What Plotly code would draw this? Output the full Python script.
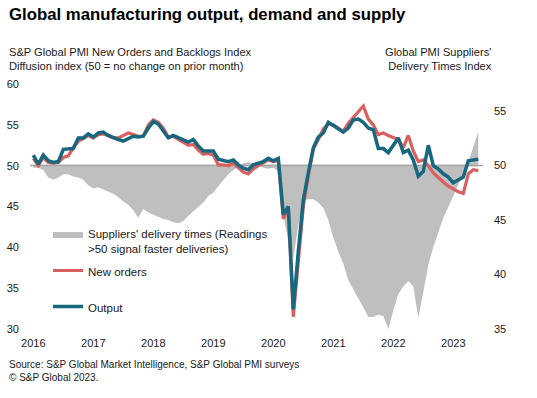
import plotly.graph_objects as go

W, H = 537, 398
L, R, T, B = 30, 54, 84, 69

months = [f"{y}-{m:02d}" for y in range(2016, 2024) for m in range(1, 13)][:90]
year_ticks = ["2016-01", "2017-01", "2018-01", "2019-01", "2020-01", "2021-01", "2022-01", "2023-01"]
year_labels = ["2016", "2017", "2018", "2019", "2020", "2021", "2022", "2023"]

output = [
    51.3, 50.2, 51.3, 50.6, 50.4, 50.5, 52.0, 52.0, 52.1, 53.4,
    53.4, 53.9, 53.5, 54.0, 54.1, 53.7, 53.4, 53.2, 53.0, 53.3,
    53.6, 53.5, 53.6, 54.6, 55.4, 55.1, 54.3, 53.4, 53.7, 53.4,
    53.1, 52.9, 53.2, 52.4, 51.8, 51.8, 51.8, 50.8, 50.7, 50.5,
    50.7, 50.1, 49.7, 49.5, 50.1, 50.3, 50.5, 50.9, 50.6, 50.9,
    44.0, 45.0, 32.4, 39.5, 45.8, 49.1, 52.2, 53.5, 54.0, 55.3,
    54.9, 54.5, 54.1, 54.6, 55.6, 55.7, 55.3, 54.6, 54.4, 52.1,
    52.1, 51.6, 52.6, 53.4, 51.6, 51.9, 50.7, 48.7, 49.3, 52.5,
    50.0, 49.6, 49.0, 48.6, 47.9, 48.3, 48.6, 50.6, 50.7, 50.8,
]

new_orders = [
    50.9, 50.0, 51.0, 50.4, 50.3, 50.4, 51.0, 51.2, 52.2, 53.0,
    53.3, 53.7, 53.4, 53.8, 53.9, 53.6, 53.4, 53.4, 53.7, 54.0,
    53.8, 53.6, 53.6, 55.0, 55.6, 55.3, 54.6, 53.5, 53.6, 53.2,
    52.8, 52.5, 52.6, 51.9, 51.4, 51.5, 51.3, 50.1, 50.1, 50.0,
    50.3, 49.8, 49.2, 49.0, 49.6, 50.0, 50.3, 50.7, 50.5, 50.6,
    43.5, 44.8, 31.5, 38.5, 45.0, 48.7, 52.0, 53.2, 54.5, 55.1,
    55.0, 54.6, 54.2, 55.2, 55.9, 56.7, 57.3, 55.7, 55.0, 53.8,
    54.0, 53.7, 53.4, 53.2, 52.2, 53.7, 51.8, 50.5, 50.7, 50.0,
    49.1, 48.5, 48.0, 47.5, 47.1, 46.8, 46.6, 49.0, 49.5, 49.4,
]

delivery_times = [
    49.8, 49.8, 49.6, 48.9, 48.7, 48.9, 49.2, 49.2, 49.0, 48.9,
    48.7, 48.2, 47.9, 48.0, 47.8, 47.6, 47.4, 47.1, 46.7, 46.4,
    45.9, 45.2, 46.0, 45.7, 45.5, 45.3, 45.1, 45.0, 44.8, 44.7,
    44.9, 45.4, 45.8, 46.2, 46.6, 47.2, 47.5, 48.1, 48.7, 49.2,
    49.6, 49.9, 50.2, 50.3, 50.2, 50.0, 49.8, 49.7, 49.8, 49.5,
    45.5, 43.0, 41.5, 44.5, 46.8, 46.9, 46.9, 46.6, 46.1, 45.0,
    43.4, 42.1, 41.0, 39.5, 38.6, 37.8, 37.0, 36.1, 36.1, 36.3,
    36.2, 35.0, 36.7, 38.2, 38.9, 39.4, 38.9, 36.0, 38.4, 40.9,
    42.5, 43.9, 45.2, 46.2, 47.2, 48.3, 49.2, 50.3, 51.7, 53.1,
]

no_change = [50] * len(months)

TEAL = "#17677e"
RED = "#d9605e"
GRAY = "#bfbfbf"
LINE50 = "#a6a6a6"
FONT = "Liberation Sans, Arial, sans-serif"
TXT = "#1a1a1a"


def px(xp):
    return (xp - L) / (W - L - R)


def py(yp):
    return (H - B - yp) / (H - T - B)


fig = go.Figure()
fig.add_trace(go.Scatter(x=months, y=no_change, yaxis="y", mode="lines",
                         line=dict(color=LINE50, width=1.5), showlegend=False,
                         hoverinfo="skip"))
fig.add_trace(go.Scatter(x=months, y=delivery_times, yaxis="y", mode="lines",
                         line=dict(width=0, color=GRAY), fill="tonexty", fillcolor=GRAY,
                         name="Suppliers' delivery times (Readings<br>&gt;50 signal faster deliveries)",
                         legend="legend"))
fig.add_trace(go.Scatter(x=months, y=new_orders, yaxis="y2", mode="lines",
                         line=dict(color=RED, width=3.2), name="New orders", legend="legend2"))
fig.add_trace(go.Scatter(x=months, y=output, yaxis="y2", mode="lines",
                         line=dict(color=TEAL, width=3.5), name="Output", legend="legend3"))

legend_common = dict(xanchor="left", yanchor="middle", valign="top", bgcolor="rgba(0,0,0,0)",
                     font=dict(size=11.5, color=TXT, family=FONT), borderwidth=0)

fig.update_layout(
    width=W, height=H,
    margin=dict(l=L, r=R, t=T, b=B, autoexpand=False),
    paper_bgcolor="white", plot_bgcolor="white",
    font=dict(family=FONT, size=11, color=TXT),
    xaxis=dict(type="category", range=[-0.66, 89.94], tickmode="array",
               tickvals=year_ticks, ticktext=year_labels, showgrid=False,
               zeroline=False, showline=False, ticks="", ticklabelstandoff=6),
    yaxis=dict(side="right", range=[35, 57.48], tickvals=[35, 40, 45, 50, 55],
               showgrid=False, zeroline=False, showline=False, ticks="",
               ticklabelstandoff=10),
    yaxis2=dict(side="left", overlaying="y", range=[30, 60],
                tickvals=[30, 35, 40, 45, 50, 55, 60], showgrid=False,
                zeroline=False, showline=False, ticks="", ticklabelstandoff=10),
    legend=dict(x=px(48), y=py(241.5), **legend_common),
    legend2=dict(x=px(48), y=py(271), **legend_common),
    legend3=dict(x=px(48), y=py(307), **legend_common),
    showlegend=True,
)

fig.add_shape(type="line", xref="x domain", x0=0, x1=1, yref="y", y0=50, y1=50,
              line=dict(color=LINE50, width=1.5), layer="below")

fig.add_annotation(text="<b>Global manufacturing output, demand and supply</b>",
                   xref="paper", yref="paper", x=px(7), y=py(15), xanchor="left",
                   yanchor="middle", showarrow=False,
                   font=dict(size=16.75, color="#000000", family=FONT))
fig.add_annotation(text="S&amp;P Global PMI New Orders and Backlogs Index<br>Diffusion index (50 = no change on prior month)",
                   xref="paper", yref="paper", x=px(7), y=py(59), xanchor="left",
                   yanchor="middle", align="left", showarrow=False,
                   font=dict(size=11.1, color=TXT, family=FONT))
fig.add_annotation(text="Global PMI Suppliers'<br>Delivery Times Index",
                   xref="paper", yref="paper", x=px(494), y=py(59), xanchor="right",
                   yanchor="middle", align="right", showarrow=False,
                   font=dict(size=11.1, color=TXT, family=FONT))
fig.add_annotation(text="Source: S&amp;P Global Market Intelligence, S&amp;P Global PMI surveys<br>© S&amp;P Global 2023.",
                   xref="paper", yref="paper", x=px(7), y=py(371), xanchor="left",
                   yanchor="middle", align="left", showarrow=False,
                   font=dict(size=10, color=TXT, family=FONT))

fig.write_html("out.html", config={"displayModeBar": False},
               post_script="document.body.style.margin='0';document.body.style.overflow='hidden';")
